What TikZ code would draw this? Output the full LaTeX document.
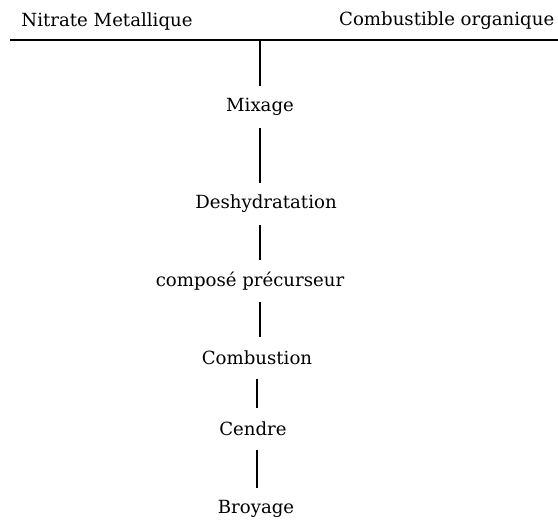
\documentclass[tikz,border=0pt]{standalone}
\usepackage{fontspec}
\setmainfont{DejaVu Serif}

\begin{document}
\begin{tikzpicture}[x=0.75pt,y=-0.75pt,line width=1.1pt,
		etape/.style={inner sep=0pt,minimum height=30pt,font=\fontsize{13.6}{16}\selectfont},
		titre/.style={inner sep=0pt,font=\fontsize{13.6}{16}\selectfont}]
	\useasboundingbox (0,0) rectangle (558,522);
	% titres du haut
	\node[titre] (nitrate) at (107,21) {Nitrate Metallique};
	\node[titre,anchor=east] (combustible) at (555,21) {Combustible organique};
	\coordinate (gauche) at (10,40);
	\coordinate (droite) at (558,40);
	\coordinate (jonction) at (260,40);
	\draw (gauche) -- (droite);
	% axes verticaux
	\coordinate (axe) at (260,0);
	\coordinate (axeb) at (257,0);
	% etapes
	\node[etape] (mixage) at (260,107) {Mixage};
	\node[etape] (deshydratation) at (266,204) {Deshydratation};
	\node[etape] (precurseur) at (250,281) {composé précurseur};
	\node[etape] (combustion) at (257,358) {Combustion};
	\node[etape] (cendre) at (253,429) {Cendre};
	\node[etape] (broyage) at (256,509) {Broyage};
	% liaisons
	\draw (jonction) -- (mixage.north -| axe);
	\draw (mixage.south -| axe) -- (deshydratation.north -| axe);
	\draw (deshydratation.south -| axe) -- (precurseur.north -| axe);
	\draw (precurseur.south -| axe) -- (combustion.north -| axe);
	\draw (combustion.south -| axeb) -- (cendre.north -| axeb);
	\draw (cendre.south -| axeb) -- (broyage.north -| axeb);
\end{tikzpicture}
\end{document}
